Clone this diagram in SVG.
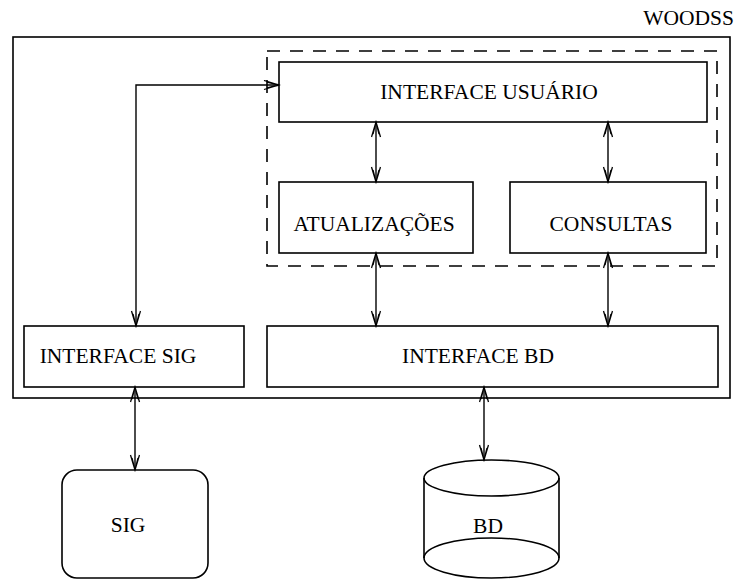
<svg xmlns="http://www.w3.org/2000/svg" width="737" height="580" viewBox="0 0 737 580">
<style>
.box{fill:none;stroke:#000;stroke-width:1.6}
.dash{fill:none;stroke:#000;stroke-width:1.6;stroke-dasharray:13 10}
.lbl{font-family:"Liberation Serif","Times New Roman",serif;font-size:21.5px;fill:#000;text-anchor:middle}
.con{fill:none;stroke:#000;stroke-width:1.4;marker-start:url(#ah);marker-end:url(#ah)}
</style>
<defs>
<marker id="ah" markerUnits="userSpaceOnUse" markerWidth="18" markerHeight="12" refX="16" refY="5" orient="auto-start-reverse">
<path d="M1,0.5 L16,5 L1,9.5 M4,2 L16,5 L4,8" fill="none" stroke="#000" stroke-width="1.3"/>
</marker>
</defs>
<rect width="737" height="580" fill="#fff"/>
<g id="woodss">
<text class="lbl" x="734" y="25" style="text-anchor:end">WOODSS</text>
<rect class="box" x="13" y="37" width="717" height="361"/>
</g>
<g id="grupo-usuario">
<rect class="dash" x="267" y="51" width="450" height="215"/>
</g>
<g id="interface-usuario">
<rect class="box" x="279" y="62" width="428" height="60"/>
<text class="lbl" x="489" y="99">INTERFACE USUÁRIO</text>
</g>
<g id="atualizacoes">
<rect class="box" x="279" y="182" width="194" height="71"/>
<text class="lbl" x="374" y="231">ATUALIZAÇÕES</text>
</g>
<g id="consultas">
<rect class="box" x="510" y="182" width="196" height="71"/>
<text class="lbl" x="611" y="231">CONSULTAS</text>
</g>
<g id="interface-sig">
<rect class="box" x="24" y="326" width="220" height="61"/>
<text class="lbl" x="118" y="363">INTERFACE SIG</text>
</g>
<g id="interface-bd">
<rect class="box" x="267" y="326" width="451" height="61"/>
<text class="lbl" x="478" y="363">INTERFACE BD</text>
</g>
<g id="sig">
<rect class="box" x="62" y="470" width="146" height="108" rx="15"/>
<text class="lbl" x="128" y="532">SIG</text>
</g>
<g id="bd">
<path class="box" d="M424,478 V558 M559,478 V558"/>
<ellipse class="box" cx="491.5" cy="478" rx="67.5" ry="18"/>
<ellipse class="box" cx="491.5" cy="558" rx="67.5" ry="20"/>
<text class="lbl" x="488" y="533">BD</text>
</g>
<g id="connectors">
<path class="con" d="M136,326 V85 H279"/>
<path class="con" d="M376,122 V182"/>
<path class="con" d="M608,122 V182"/>
<path class="con" d="M376,253 V326"/>
<path class="con" d="M608,253 V326"/>
<path class="con" d="M135,387 V470"/>
<path class="con" d="M484,387 V460"/>
</g>
</svg>
